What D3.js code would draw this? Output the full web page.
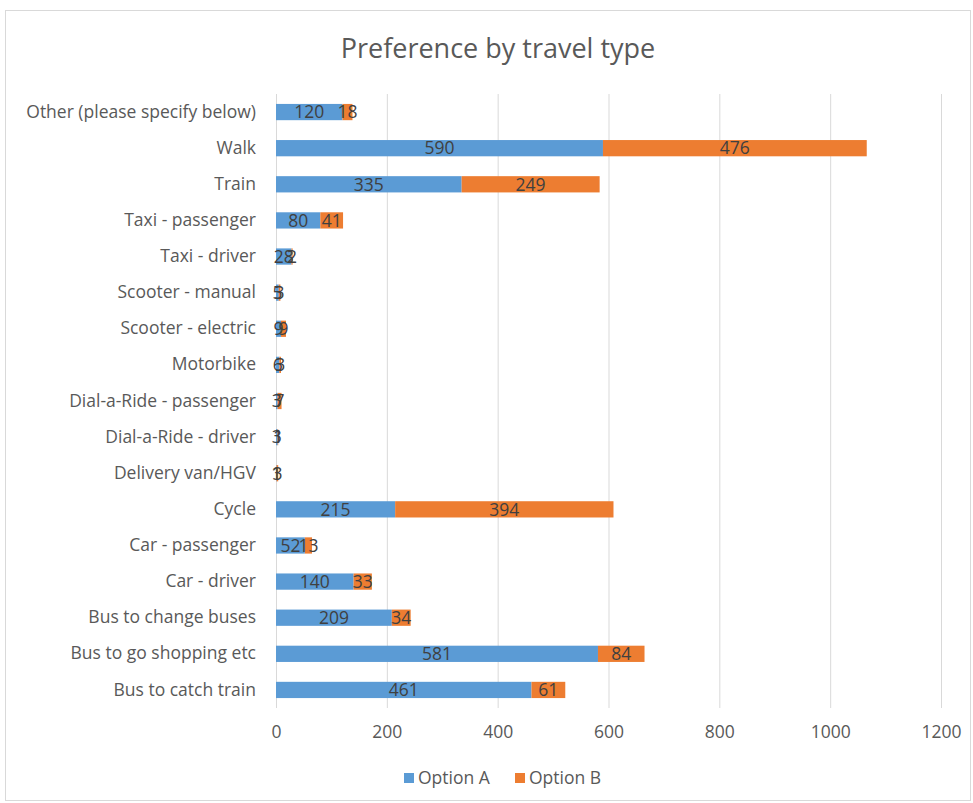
<!DOCTYPE html>
<html>
<head>
<meta charset="utf-8">
<script src="https://cdn.jsdelivr.net/npm/d3@7"></script>
<style>
  html, body { margin: 0; padding: 0; background: #fff; }
  svg { display: block; }
  text { font-family: "Open Sans", "Noto Sans", sans-serif; }
</style>
</head>
<body>
<svg id="chart" width="973" height="803"></svg>
<script>
// Travel types, listed top to bottom
const categories = [
  "Other (please specify below)",
  "Walk",
  "Train",
  "Taxi - passenger",
  "Taxi - driver",
  "Scooter - manual",
  "Scooter - electric",
  "Motorbike",
  "Dial-a-Ride - passenger",
  "Dial-a-Ride - driver",
  "Delivery van/HGV",
  "Cycle",
  "Car - passenger",
  "Car - driver",
  "Bus to change buses",
  "Bus to go shopping etc",
  "Bus to catch train"
];
const optionA = [120, 590, 335, 80, 28, 5, 9, 6, 3, 3, 1, 215, 52, 140, 209, 581, 461];
const optionB = [18, 476, 249, 41, 2, 3, 9, 3, 7, 1, 3, 394, 13, 33, 34, 84, 61];
const seriesNames = ["Option A", "Option B"];
const seriesColors = ["#5B9BD5", "#ED7D31"];
const xTicks = [0, 200, 400, 600, 800, 1000, 1200];
const chartTitle = "Preference by travel type";

const svg = d3.select("#chart");
const W = 973, H = 803;
const margin = { left: 276, right: 32, top: 94, bottom: 95 };
const labelFont = 17.5;

// Chart frame
svg.append("rect")
  .attr("x", 5.5).attr("y", 10.5)
  .attr("width", W - 8).attr("height", H - 13)
  .attr("fill", "#fff").attr("stroke", "#D9D9D9");

svg.append("text")
  .attr("x", 498).attr("y", 58)
  .attr("text-anchor", "middle")
  .attr("font-size", 27)
  .attr("fill", "#595959")
  .text(chartTitle);

const x = d3.scaleLinear().domain([0, 1200]).range([margin.left, W - margin.right]);
const y = d3.scaleBand().domain(categories)
  .range([margin.top, H - margin.bottom])
  .paddingInner(0.55).paddingOuter(0.275);

// Vertical gridlines
svg.append("g")
  .selectAll("line").data(xTicks).join("line")
  .attr("x1", d => x(d) + 0.5).attr("x2", d => x(d) + 0.5)
  .attr("y1", margin.top).attr("y2", H - margin.bottom)
  .attr("stroke", "#D9D9D9").attr("stroke-width", 1);

// X tick labels
const xAxis = d3.axisBottom(x).tickValues(xTicks).tickFormat(d3.format("d")).tickSize(0).tickPadding(0);
const gx = svg.append("g").attr("transform", `translate(0,${H - margin.bottom + 18})`).call(xAxis);
gx.select(".domain").remove();
gx.selectAll("text").attr("font-size", labelFont).attr("fill", "#595959")
  .attr("font-family", "\"Open Sans\", sans-serif");

// Category labels
const yAxis = d3.axisLeft(y).tickSize(0).tickPadding(20);
const gy = svg.append("g").attr("transform", `translate(${margin.left},0)`).call(yAxis);
gy.select(".domain").remove();
gy.selectAll("text").attr("font-size", labelFont).attr("fill", "#595959")
  .attr("font-family", "\"Open Sans\", sans-serif");

// Stacked bars
const rows = categories.map((c, i) => ({ cat: c, A: optionA[i], B: optionB[i] }));
const stack = d3.stack().keys(["A", "B"])(rows);

const layers = svg.append("g").selectAll("g").data(stack).join("g")
  .attr("fill", (d, i) => seriesColors[i]);

layers.selectAll("rect").data(d => d).join("rect")
  .attr("x", d => x(d[0]))
  .attr("y", d => y(d.data.cat))
  .attr("width", d => x(d[1]) - x(d[0]))
  .attr("height", y.bandwidth());

// Value labels centred in each segment
const labels = svg.append("g").selectAll("g").data(stack).join("g");
labels.selectAll("text").data(d => d.map(s => ({ s, key: d.key }))).join("text")
  .attr("x", d => (x(d.s[0]) + x(d.s[1])) / 2)
  .attr("y", d => y(d.s.data.cat) + y.bandwidth() / 2)
  .attr("dy", "0.36em")
  .attr("text-anchor", "middle")
  .attr("font-size", labelFont)
  .attr("fill", "#404040")
  .text(d => d.s.data[d.key]);

// Legend
const legend = svg.append("g").attr("transform", "translate(0,778)");
const legendX = [404, 515];
seriesNames.forEach((name, i) => {
  legend.append("rect")
    .attr("x", legendX[i]).attr("y", -5)
    .attr("width", 10).attr("height", 10)
    .attr("fill", seriesColors[i]);
  legend.append("text")
    .attr("x", legendX[i] + 14).attr("y", 0)
    .attr("dy", "0.36em")
    .attr("font-size", labelFont)
    .attr("fill", "#595959")
    .text(name);
});
</script>
</body>
</html>
